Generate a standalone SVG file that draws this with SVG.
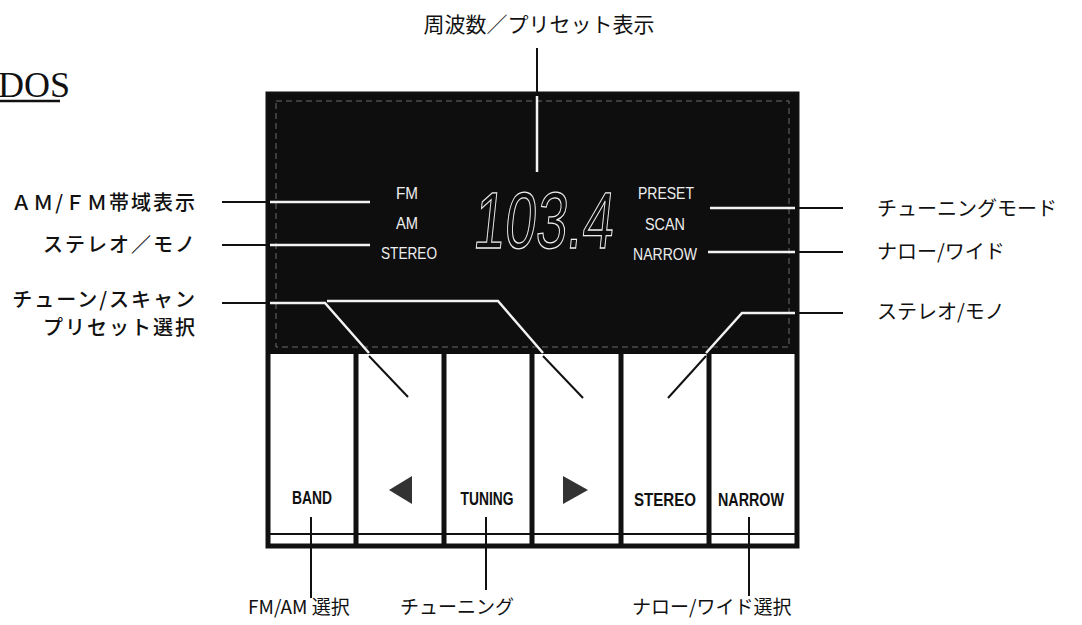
<svg xmlns="http://www.w3.org/2000/svg" width="1082" height="625" viewBox="0 0 1082 625">
<style>
.jp{font-family:"Noto Sans CJK JP","Noto Sans",sans-serif;fill:#111;}
.lbl{font-size:20px;letter-spacing:2px;font-weight:500;}
.rl{font-size:20px;}
.bl{font-size:19px;}
.disp{font-family:"Liberation Sans",sans-serif;font-size:17px;fill:#eee;text-anchor:middle;}
.btn{font-family:"Liberation Sans",sans-serif;font-size:19px;fill:#111;text-anchor:middle;font-weight:bold;}
.blk{stroke:#111;stroke-width:2;fill:none;}
.wht{stroke:#f2f2f2;stroke-width:2.5;fill:none;}
</style>
<rect width="1082" height="625" fill="#fff"/>
<g id="title">
<text x="-2" y="97" font-family="Liberation Serif,serif" font-size="36" fill="#111">DOS</text>
<line x1="0" y1="101" x2="60" y2="101" stroke="#111" stroke-width="2.5"/>
</g>
<g id="panel">
<rect x="268" y="94" width="529" height="452" fill="#fff" stroke="#111" stroke-width="5"/>
<rect x="268" y="94" width="529" height="260" fill="#0e0e0e"/>
<rect x="276" y="101" width="513" height="246" fill="none" stroke="#6a6a6a" stroke-width="1" stroke-dasharray="6 4"/>
<g stroke="#111" stroke-width="5">
<line x1="356" y1="354" x2="356" y2="544"/>
<line x1="444" y1="354" x2="444" y2="544"/>
<line x1="532" y1="354" x2="532" y2="544"/>
<line x1="621" y1="354" x2="621" y2="544"/>
<line x1="709" y1="354" x2="709" y2="544"/>
</g>
<line x1="270" y1="534" x2="795" y2="534" stroke="#111" stroke-width="2"/>
</g>
<g id="display">
<text class="disp" x="407" y="199" textLength="22" lengthAdjust="spacingAndGlyphs">FM</text>
<text class="disp" x="407" y="229" textLength="22" lengthAdjust="spacingAndGlyphs">AM</text>
<text class="disp" x="409" y="259" textLength="56" lengthAdjust="spacingAndGlyphs">STEREO</text>
<text class="disp" x="666" y="199" textLength="56" lengthAdjust="spacingAndGlyphs">PRESET</text>
<text class="disp" x="665" y="230" textLength="40" lengthAdjust="spacingAndGlyphs">SCAN</text>
<text class="disp" x="665" y="260" textLength="64" lengthAdjust="spacingAndGlyphs">NARROW</text>
<text x="472" y="248" font-family="Liberation Sans,sans-serif" font-size="80" fill="#0e0e0e" stroke="#eee" stroke-width="1.3" textLength="140" lengthAdjust="spacingAndGlyphs" transform="skewX(-6) translate(26 0)">103.4</text>
</g>
<g id="btn-band"><text class="btn" x="312" y="504" textLength="40" lengthAdjust="spacingAndGlyphs">BAND</text></g>
<g id="btn-left"><polygon points="389,490 412,476 412,504" fill="#333"/></g>
<g id="btn-tuning"><text class="btn" x="487" y="505" textLength="53" lengthAdjust="spacingAndGlyphs">TUNING</text></g>
<g id="btn-right"><polygon points="563,476 563,504 588,490" fill="#333"/></g>
<g id="btn-stereo"><text class="btn" x="665" y="506" textLength="62" lengthAdjust="spacingAndGlyphs">STEREO</text></g>
<g id="btn-narrow"><text class="btn" x="751" y="506" textLength="66" lengthAdjust="spacingAndGlyphs">NARROW</text></g>
<g id="labels">
<text class="jp" x="539" y="32" text-anchor="middle" font-size="21">周波数／プリセット表示</text>
<text class="jp lbl" x="197" y="210" text-anchor="end">ＡＭ/ＦＭ帯域表示</text>
<text class="jp lbl" x="197" y="252" text-anchor="end">ステレオ／モノ</text>
<text class="jp lbl" x="197" y="307" text-anchor="end">チューン/スキャン</text>
<text class="jp lbl" x="197" y="335" text-anchor="end">プリセット選択</text>
<text class="jp rl" x="877" y="216">チューニングモード</text>
<text class="jp rl" x="877" y="259">ナロー/ワイド</text>
<text class="jp rl" x="877" y="319">ステレオ/モノ</text>
<text class="jp bl" x="248" y="614">FM/AM 選択</text>
<text class="jp bl" x="400" y="614">チューニング</text>
<text class="jp bl" x="632" y="614">ナロー/ワイド選択</text>
</g>
<g id="connectors">
<line class="blk" x1="537" y1="48" x2="537" y2="94"/>
<line class="wht" x1="537" y1="96" x2="537" y2="172"/>
<line class="blk" x1="222" y1="202" x2="268" y2="202"/>
<line class="wht" x1="270" y1="202" x2="370" y2="202"/>
<line class="blk" x1="222" y1="245" x2="268" y2="245"/>
<line class="wht" x1="270" y1="245" x2="370" y2="245"/>
<line class="blk" x1="222" y1="303" x2="268" y2="303"/>
<polyline class="wht" points="270,303 325,303 369,353"/>
<line class="blk" x1="369" y1="356" x2="408" y2="397"/>
<polyline class="wht" points="327,301 498,301 543,353"/>
<line class="blk" x1="543" y1="356" x2="583" y2="398"/>
<line class="wht" x1="710" y1="208" x2="795" y2="208"/>
<line class="blk" x1="797" y1="208" x2="843" y2="208"/>
<line class="wht" x1="708" y1="252" x2="795" y2="252"/>
<line class="blk" x1="797" y1="252" x2="843" y2="252"/>
<polyline class="wht" points="795,313 742,313 706,353"/>
<line class="blk" x1="797" y1="313" x2="843" y2="313"/>
<line class="blk" x1="706" y1="356" x2="668" y2="398"/>
<line class="blk" x1="311" y1="517" x2="311" y2="598"/>
<line class="blk" x1="486" y1="517" x2="486" y2="590"/>
<line class="blk" x1="749" y1="517" x2="749" y2="596"/>
</g>
</svg>
